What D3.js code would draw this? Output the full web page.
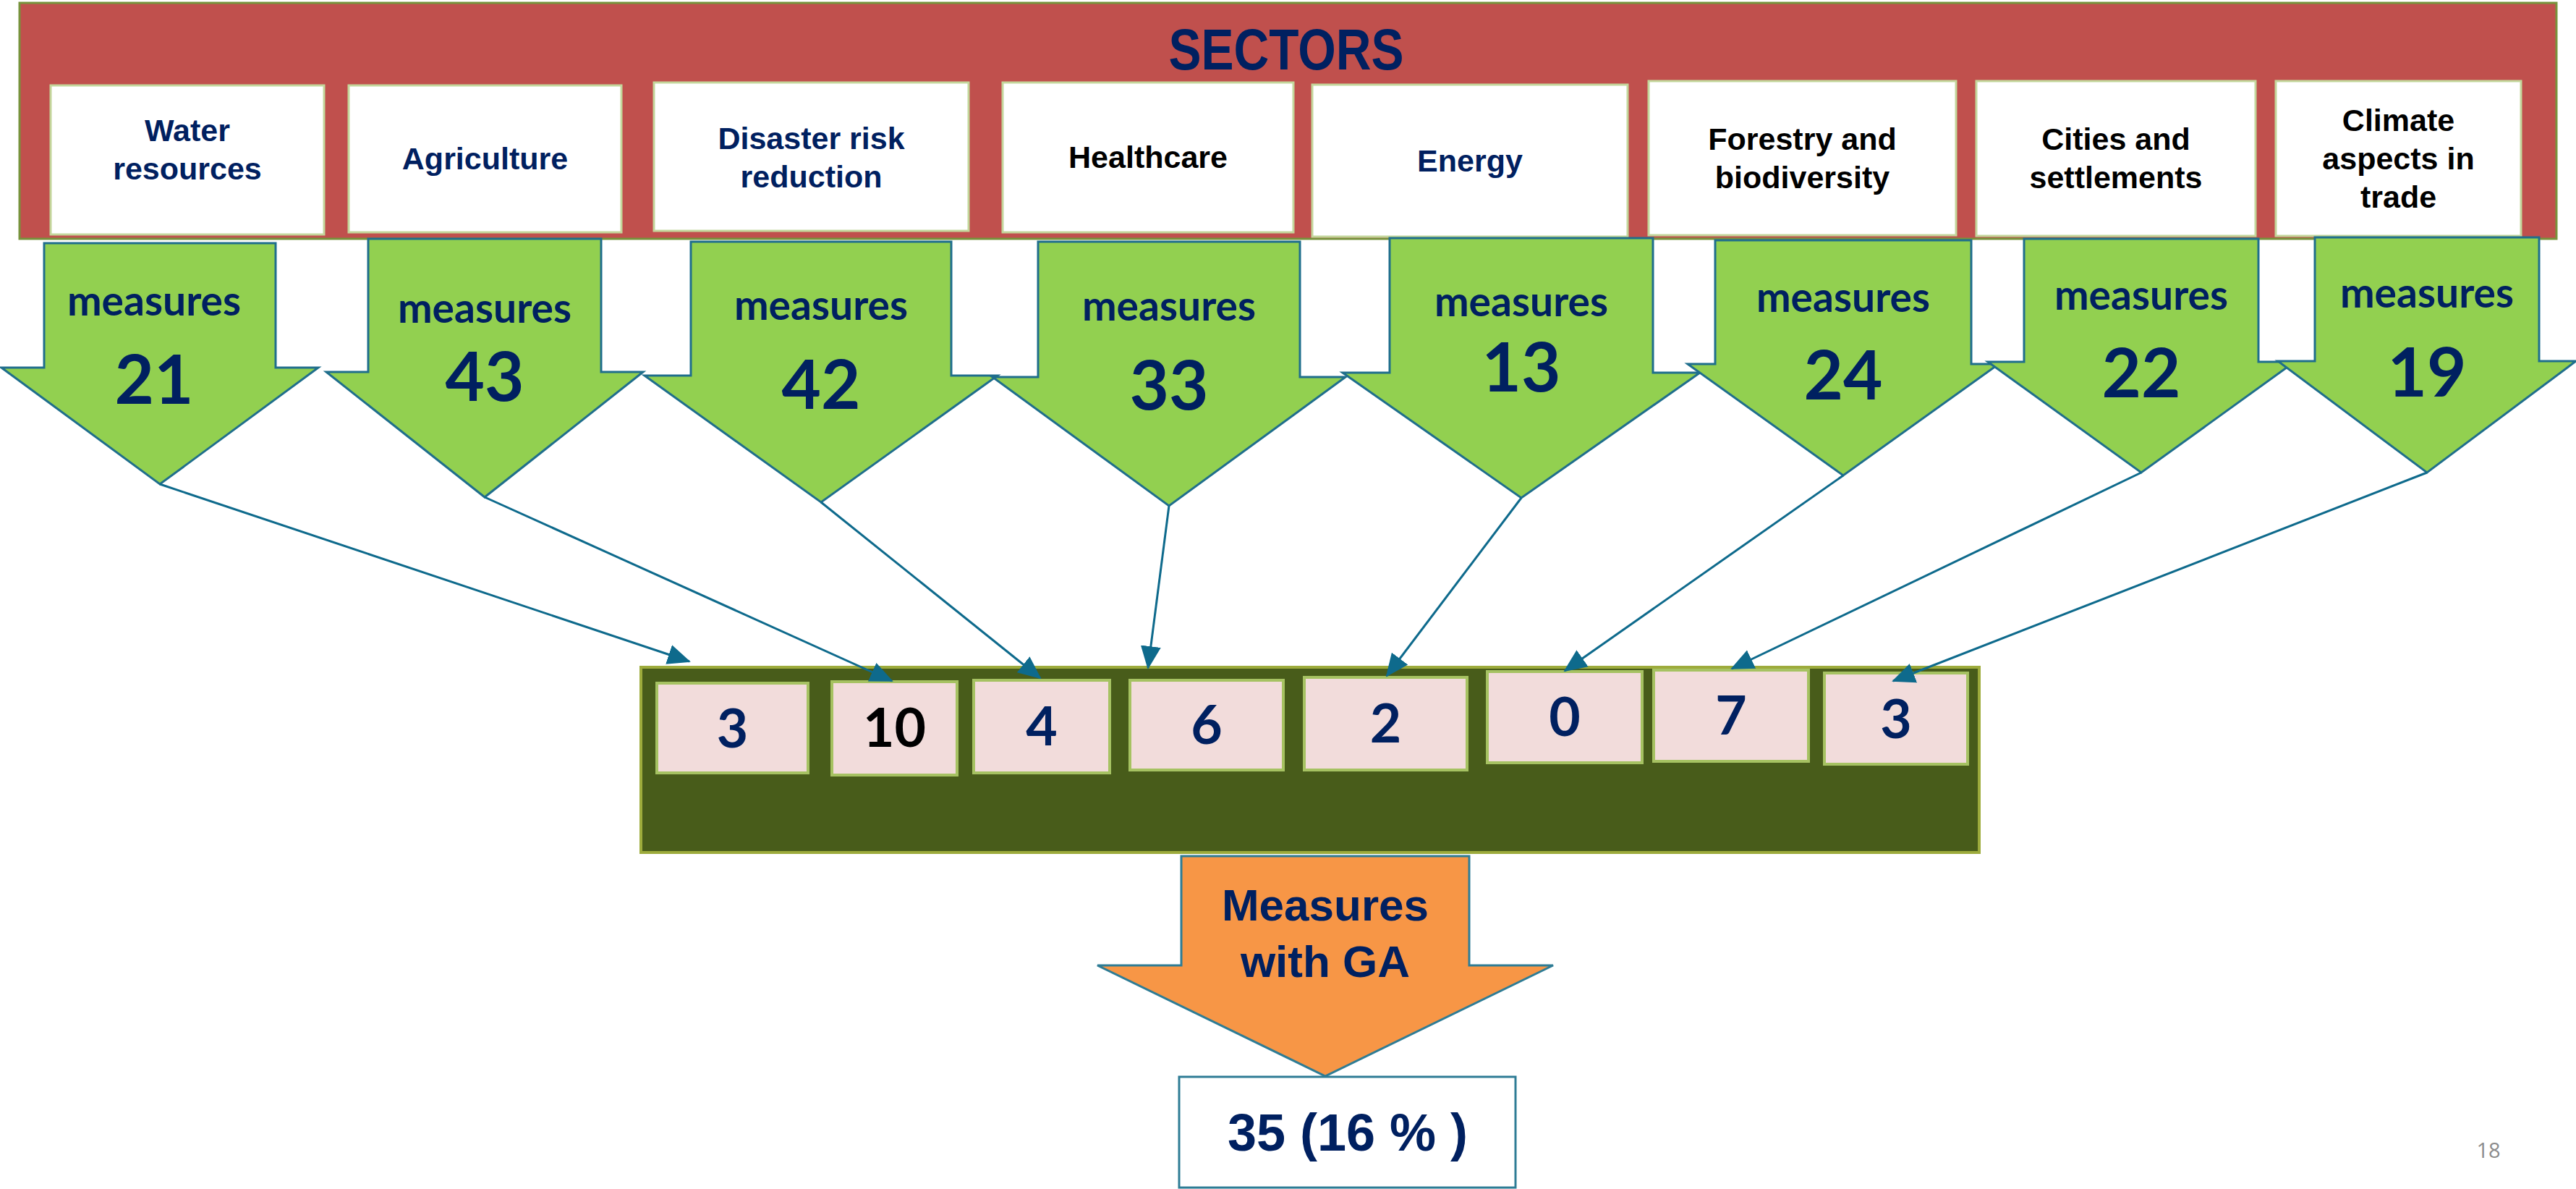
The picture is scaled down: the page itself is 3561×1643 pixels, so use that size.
<!DOCTYPE html>
<html>
<head>
<meta charset="utf-8">
<script src="https://cdn.jsdelivr.net/npm/d3@7"></script>
<style>
  body { margin: 0; background: #fff; }
  svg { display: block; }
</style>
</head>
<body>
<svg id="chart" width="3561" height="1643"></svg>
<script>
"use strict";

// --- data ---
var sectors = ["Water resources", "Agriculture", "Disaster risk reduction", "Healthcare",
               "Energy", "Forestry and biodiversity", "Cities and settlements", "Climate aspects in trade"];
var sectorLines = [["Water", "resources"], ["Agriculture"], ["Disaster risk", "reduction"], ["Healthcare"],
                   ["Energy"], ["Forestry and", "biodiversity"], ["Cities and", "settlements"], ["Climate", "aspects in", "trade"]];
var measures = [21, 43, 42, 33, 13, 24, 22, 19];
var measuresGA = [3, 10, 4, 6, 2, 0, 7, 3];
var title = "SECTORS";
var resultTitle = ["Measures", "with GA"];
var pageNumber = "18";

// --- layout (diagram is hand placed in the source, so keep its geometry here) ---
var arrowCx   = [221, 670, 1135, 1616, 2103, 2548, 2960, 3355];
var shaftHalf = [160, 161, 180, 181, 182, 177, 162, 155];
var headHalf  = [219, 219, 244, 244, 247, 215, 212, 206];
var arrowTop  = [336, 330, 334, 334, 329, 332, 330, 328];
var shoulderY = [508, 514, 519, 521, 515, 503, 500, 499];
var tipY      = [669, 687, 694, 699, 688, 657, 653, 653];
var wordY     = [436, 446, 442, 443, 437, 431, 428, 425];
var countY    = [558, 554, 565, 566, 541, 552, 549, 548];

var boxX0 = [70, 482, 904, 1386, 1814, 2279, 2732, 3146];
var boxX1 = [448, 859, 1339, 1788, 2250, 2704, 3118, 3485];
var boxY0 = [118, 118, 114, 114, 117, 112, 112, 112];
var boxY1 = [324, 321, 319, 321, 327, 325, 326, 326];
var labelMidY = [221, 234, 232, 232, 237, 233, 233, 234];
var labelInk = ["#002060", "#002060", "#002060", "#000000", "#002060", "#000000", "#000000", "#000000"];

var pinkX0 = [908, 1150, 1346, 1562, 1803, 2056, 2286, 2522];
var pinkX1 = [1117, 1323, 1534, 1774, 2028, 2270, 2500, 2720];
var pinkY0 = [944, 942, 940, 940, 936, 928, 926, 930];
var pinkY1 = [1068, 1071, 1068, 1064, 1064, 1054, 1052, 1056];
var pinkBase = [1033, 1032, 1030, 1028, 1026, 1017, 1015, 1020];
var pinkInk = ["#002060", "#000000", "#002060", "#002060", "#002060", "#002060", "#002060", "#002060"];
var linkEnd = [[953, 914], [1233, 941], [1438, 937], [1587, 923], [1917, 934], [2163, 927], [2394, 924], [2617, 941]];

var navy = "#002060";
var teal = "#1F6E8C";

var svg = d3.select("#chart");
var idx = d3.range(sectors.length);
var xArrow = d3.scaleOrdinal().domain(sectors).range(arrowCx);

svg.append("defs").append("marker")
    .attr("id", "head")
    .attr("markerUnits", "userSpaceOnUse")
    .attr("viewBox", "0 -15 32 30")
    .attr("markerWidth", 32).attr("markerHeight", 30)
    .attr("refX", 30).attr("refY", 0)
    .attr("orient", "auto")
  .append("path")
    .attr("d", "M0,-14L32,0L0,14Z")
    .attr("fill", "#0E6A8C");

// red banner with sector boxes
svg.append("rect")
    .attr("x", 27).attr("y", 4).attr("width", 3507).attr("height", 326)
    .attr("fill", "#C0504D").attr("stroke", "#77933C").attr("stroke-width", 3);

svg.append("text")
    .attr("x", 1778).attr("y", 96)
    .attr("text-anchor", "middle")
    .attr("textLength", 325).attr("lengthAdjust", "spacingAndGlyphs")
    .style("font", "bold 80px 'Liberation Sans', Arial, sans-serif")
    .attr("fill", navy)
    .text(title);

var box = svg.selectAll("g.sector").data(idx).enter().append("g").attr("class", "sector");
box.append("rect")
    .attr("x", function(i){ return boxX0[i]; })
    .attr("y", function(i){ return boxY0[i]; })
    .attr("width", function(i){ return boxX1[i] - boxX0[i]; })
    .attr("height", function(i){ return boxY1[i] - boxY0[i]; })
    .attr("fill", "#fff").attr("stroke", "#C3D69B").attr("stroke-width", 3);
box.append("text")
    .attr("text-anchor", "middle")
    .style("font", "bold 43px 'Liberation Sans', Arial, sans-serif")
    .attr("fill", function(i){ return labelInk[i]; })
    .each(function(i){
        var lines = sectorLines[i];
        var t = d3.select(this);
        var cx = (boxX0[i] + boxX1[i]) / 2;
        lines.forEach(function(l, k){
            t.append("tspan")
                .attr("x", cx)
                .attr("y", labelMidY[i] + (k - (lines.length - 1) / 2) * 53)
                .text(l);
        });
    });

// green container with GA counts
svg.append("rect")
    .attr("x", 886).attr("y", 922).attr("width", 1850).attr("height", 256)
    .attr("fill", "#485C1A").attr("stroke", "#9DAB3C").attr("stroke-width", 4);

var pink = svg.selectAll("g.ga").data(idx).enter().append("g").attr("class", "ga");
pink.append("rect")
    .attr("x", function(i){ return pinkX0[i]; })
    .attr("y", function(i){ return pinkY0[i]; })
    .attr("width", function(i){ return pinkX1[i] - pinkX0[i]; })
    .attr("height", function(i){ return pinkY1[i] - pinkY0[i]; })
    .attr("fill", "#F2DCDB").attr("stroke", "#A6C262").attr("stroke-width", 4);
pink.append("text")
    .attr("x", function(i){ return (pinkX0[i] + pinkX1[i]) / 2; })
    .attr("y", function(i){ return pinkBase[i]; })
    .attr("text-anchor", "middle")
    .style("font", "bold 75px Lato, 'Liberation Sans', sans-serif")
    .attr("fill", function(i){ return pinkInk[i]; })
    .text(function(i){ return measuresGA[i]; });

// green down arrows with measure counts
function arrowPath(cx, sw, hw, top, sh, tip) {
    var p = d3.path();
    p.moveTo(cx - sw, top);
    p.lineTo(cx + sw, top);
    p.lineTo(cx + sw, sh);
    p.lineTo(cx + hw, sh);
    p.lineTo(cx, tip);
    p.lineTo(cx - hw, sh);
    p.lineTo(cx - sw, sh);
    p.closePath();
    return p.toString();
}

var arr = svg.selectAll("g.arrow").data(idx).enter().append("g").attr("class", "arrow");
arr.append("path")
    .attr("d", function(i){
        return arrowPath(xArrow(sectors[i]), shaftHalf[i], headHalf[i], arrowTop[i], shoulderY[i], tipY[i]);
    })
    .attr("fill", "#92D050").attr("stroke", teal).attr("stroke-width", 3)
    .attr("stroke-linejoin", "miter");
arr.append("text")
    .attr("x", function(i){ return xArrow(sectors[i]) - (i === 0 ? 8 : 0); })
    .attr("y", function(i){ return wordY[i]; })
    .attr("text-anchor", "middle")
    .style("font", "bold 57px Lato, 'Liberation Sans', sans-serif")
    .attr("fill", navy)
    .text("measures");
arr.append("text")
    .attr("x", function(i){ return xArrow(sectors[i]) - (i === 0 ? 8 : 0); })
    .attr("y", function(i){ return countY[i]; })
    .attr("text-anchor", "middle")
    .style("font", "bold 94px Lato, 'Liberation Sans', sans-serif")
    .attr("fill", navy)
    .text(function(i){ return measures[i]; });

// connectors from each sector arrow to its GA count
svg.selectAll("line.link").data(idx).enter().append("line")
    .attr("class", "link")
    .attr("x1", function(i){ return xArrow(sectors[i]); })
    .attr("y1", function(i){ return tipY[i]; })
    .attr("x2", function(i){ return linkEnd[i][0]; })
    .attr("y2", function(i){ return linkEnd[i][1]; })
    .attr("stroke", "#0E6A8C").attr("stroke-width", 3)
    .attr("marker-end", "url(#head)");

// orange summary arrow and total
var totalGA = d3.sum(measuresGA);
var totalAll = d3.sum(measures);

svg.append("path")
    .attr("d", arrowPath(1832, 199, 315, 1183, 1334, 1487))
    .attr("fill", "#F79646").attr("stroke", "#2E7C95").attr("stroke-width", 3);

svg.append("text")
    .attr("text-anchor", "middle")
    .style("font", "bold 62px 'Liberation Sans', Arial, sans-serif")
    .attr("fill", navy)
    .selectAll("tspan").data(resultTitle).enter().append("tspan")
    .attr("x", 1832)
    .attr("y", function(d, k){ return 1272 + k * 78; })
    .text(function(d){ return d; });

svg.append("rect")
    .attr("x", 1630).attr("y", 1488).attr("width", 465).attr("height", 153)
    .attr("fill", "#fff").attr("stroke", "#2E7C95").attr("stroke-width", 3);

svg.append("text")
    .attr("x", 1863).attr("y", 1590)
    .attr("text-anchor", "middle")
    .style("font", "bold 72px 'Liberation Sans', Arial, sans-serif")
    .attr("fill", navy)
    .text(totalGA + " (" + Math.round(100 * totalGA / totalAll) + " % )");

svg.append("text")
    .attr("x", 3440).attr("y", 1600)
    .attr("text-anchor", "middle")
    .style("font", "29px 'Open Sans', 'Liberation Sans', sans-serif")
    .attr("fill", "#8C8C8C")
    .text(pageNumber);
</script>
</body>
</html>
